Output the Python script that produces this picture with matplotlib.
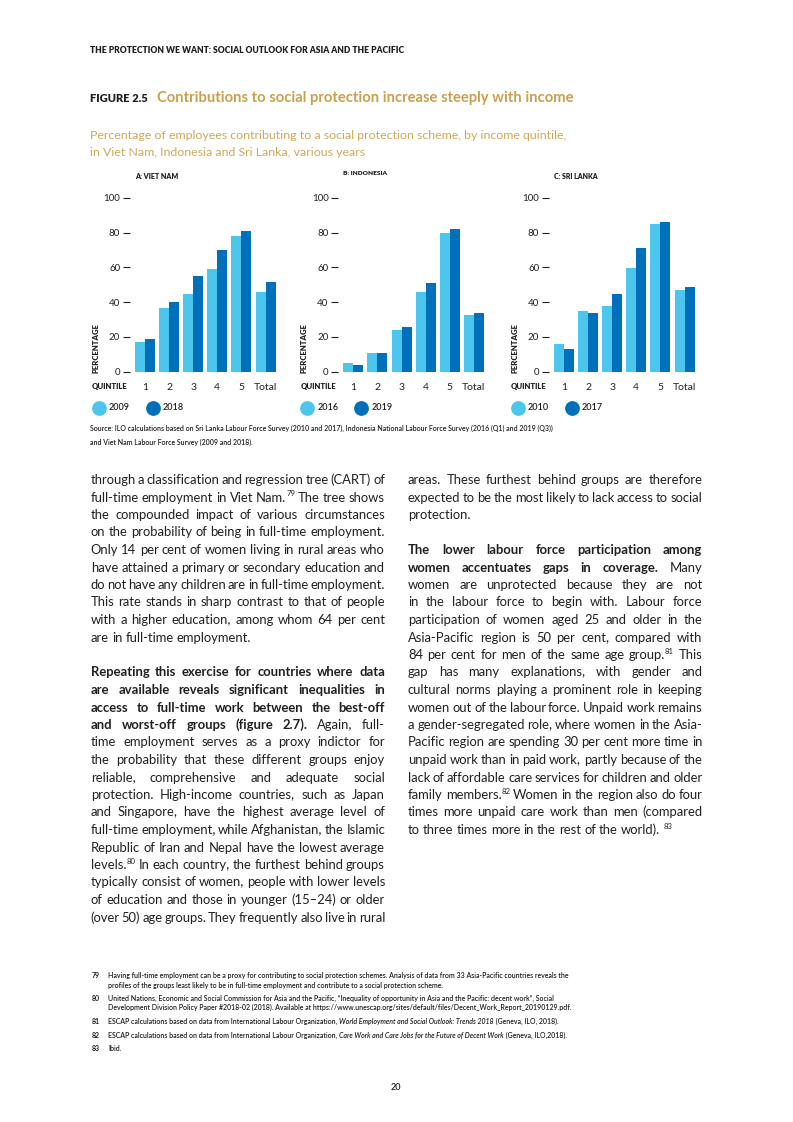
import math
import matplotlib
matplotlib.use("Agg")
import matplotlib.pyplot as plt
from matplotlib.font_manager import FontProperties
from matplotlib.lines import Line2D
import numpy as np

W, H = 793, 1122

# chart data
quintiles = ["1", "2", "3", "4", "5", "Total"]
viet_nam_2009 = [17.0, 36.6, 44.6, 59.0, 78.0, 45.8]
viet_nam_2018 = [18.8, 40.0, 55.0, 70.0, 80.8, 51.5]
indonesia_2016 = [5.0, 10.7, 24.0, 45.8, 79.7, 32.6]
indonesia_2019 = [3.8, 10.7, 25.7, 51.0, 82.0, 33.7]
sri_lanka_2010 = [15.9, 34.9, 37.7, 59.6, 84.9, 46.9]
sri_lanka_2017 = [13.0, 33.7, 44.6, 71.1, 86.0, 48.7]

panel_titles = ["A: VIET NAM", "B: INDONESIA", "C: SRI LANKA"]
panel_years = [("2009", "2018"), ("2016", "2019"), ("2010", "2017")]
panel_values = [(viet_nam_2009, viet_nam_2018),
                (indonesia_2016, indonesia_2019),
                (sri_lanka_2010, sri_lanka_2017)]

header = "THE PROTECTION WE WANT: SOCIAL OUTLOOK FOR ASIA AND THE PACIFIC"
fig_label = "FIGURE 2.5"
fig_title = "Contributions to social protection increase steeply with income"
subtitle = ["Percentage of employees contributing to a social protection scheme, by income quintile,",
            "in Viet Nam, Indonesia and Sri Lanka, various years"]
source = ["Source: ILO calculations based on Sri Lanka Labour Force Survey (2010 and 2017), Indonesia National Labour Force Survey (2016 (Q1) and 2019 (Q3))",
          "and Viet Nam Labour Force Survey (2009 and 2018)."]

# body text, line by line as set on the page ("bold part|regular part", "^" = superscript)
left_par1 = [
    "through a classification and regression tree (CART) of",
    "full-time employment in Viet Nam.^79 The tree shows",
    "the compounded impact of various circumstances",
    "on the probability of being in full-time employment.",
    "Only 14 per cent of women living in rural areas who",
    "have attained a primary or secondary education and",
    "do not have any children are in full-time employment.",
    "This rate stands in sharp contrast to that of people",
    "with a higher education, among whom 64 per cent",
    "are in full-time employment.",
]
left_par2 = [
    "Repeating this exercise for countries where data|",
    "are available reveals significant inequalities in|",
    "access to full-time work between the best-off|",
    "and worst-off groups (figure 2.7).|Again, full-",
    "time employment serves as a proxy indictor for",
    "the probability that these different groups enjoy",
    "reliable, comprehensive and adequate social",
    "protection. High-income countries, such as Japan",
    "and Singapore, have the highest average level of",
    "full-time employment, while Afghanistan, the Islamic",
    "Republic of Iran and Nepal have the lowest average",
    "levels.^80 In each country, the furthest behind groups",
    "typically consist of women, people with lower levels",
    "of education and those in younger (15\u201324) or older",
    "(over 50) age groups. They frequently also live in rural",
]
right_par1 = [
    "areas. These furthest behind groups are therefore",
    "expected to be the most likely to lack access to social",
    "protection.",
]
right_par2 = [
    "The lower labour force participation among|",
    "women accentuates gaps in coverage.|Many",
    "women are unprotected because they are not",
    "in the labour force to begin with. Labour force",
    "participation of women aged 25 and older in the",
    "Asia-Pacific region is 50 per cent, compared with",
    "84 per cent for men of the same age group.^81 This",
    "gap has many explanations, with gender and",
    "cultural norms playing a prominent role in keeping",
    "women out of the labour force. Unpaid work remains",
    "a gender-segregated role, where women in the Asia-",
    "Pacific region are spending 30 per cent more time in",
    "unpaid work than in paid work, partly because of the",
    "lack of affordable care services for children and older",
    "family members.^82 Women in the region also do four",
    "times more unpaid care work than men (compared",
    "to three times more in the rest of the world). ^83",
]

# footnotes: (number, [lines of (text, style)])
footnotes = [
    ("79", [[("Having full-time employment can be a proxy for contributing to social protection schemes. Analysis of data from 33 Asia-Pacific countries reveals the", "n")],
            [("profiles of the groups least likely to be in full-time employment and contribute to a social protection scheme.", "n")]]),
    ("80", [[("United Nations, Economic and Social Commission for Asia and the Pacific, \u201cInequality of opportunity in Asia and the Pacific: decent work\u201d, Social", "n")],
            [("Development Division Policy Paper #2018-02 (2018). Available at https://www.unescap.org/sites/default/files/Decent_Work_Report_20190129.pdf.", "n")]]),
    ("81", [[("ESCAP calculations based on data from International Labour Organization, ", "n"),
             ("World Employment and Social Outlook: Trends 2018", "i"),
             (" (Geneva, ILO, 2018).", "n")]]),
    ("82", [[("ESCAP calculations based on data from International Labour Organization, ", "n"),
             ("Care Work and Care Jobs for the Future of Decent Work", "i"),
             (" (Geneva, ILO,2018).", "n")]]),
    ("83", [[("Ibid.", "n")]]),
]

INK = "#231f20"
GOLD = "#c9a04b"
GOLD_LIGHT = "#d0a857"
LIGHT = "#4cc6ec"
DARK = "#0070bb"
SANS = "Lato"

plt.rcParams["font.family"] = SANS

fig = plt.figure(figsize=(W / 100, H / 100), dpi=100)
renderer = fig.canvas.get_renderer()


def fp(size, weight="normal", style="normal"):
    return FontProperties(family=SANS, size=size, weight=weight, style=style)


def text_width(s, prop):
    if not s:
        return 0.0
    w, h, d = renderer.get_text_width_height_descent(s, prop, ismath=False)
    return w


def fit(s, target, **kw):
    # font size that makes s about target pixels wide
    return 10 * target / text_width(s, fp(10, **kw))


def put(x, y, s, prop, color=INK, **kw):
    return fig.text(x / W, 1 - y / H, s, fontproperties=prop, color=color, **kw)


def put_base(x, y, s, prop, color=INK):
    # baseline text; nudge y so that pieces of one line land on the same pixel row
    w, h, d = renderer.get_text_width_height_descent(s, prop, ismath=False)
    yy = round(y) + math.floor(h) - math.floor(h - d) - d
    return put(x, yy, s, prop, color=color, va="baseline")


# ---- header and titles
put(90, 53, header, fp(fit(header, 315, weight="heavy"), weight="heavy"), va="baseline")
put_base(90, 102.5, fig_label, fp(fit(fig_label, 58, weight="heavy"), weight="heavy"))
put_base(157, 102.5, fig_title, fp(fit(fig_title, 416, weight="bold"), weight="bold"), color=GOLD)
sub_size = fit(subtitle[0], 480)
put(90, 139, subtitle[0], fp(sub_size), color=GOLD_LIGHT, va="baseline")
put(90, 155.5, subtitle[1], fp(sub_size), color=GOLD_LIGHT, va="baseline")

# ---- the three bar panels
panel_left = [133, 341.3, 552]
title_y = [176.7, 173.3, 176.7]
axes_w = 144.6
y0_px, y100_px = 371.7, 197.7
bw = 0.415
x = np.arange(len(quintiles))
small_bold = fit("PERCENTAGE", 50, weight="heavy")

for i in range(3):
    left = panel_left[i]
    a, b = panel_values[i]
    ax = fig.add_axes([left / W, 1 - y0_px / H, axes_w / W, (y0_px - y100_px) / H])
    ax.bar(x - bw / 2, a, bw, color=LIGHT, linewidth=0)
    ax.bar(x + bw / 2, b, bw, color=DARK, linewidth=0)
    ax.set_xlim(-0.5, 5.5)
    ax.set_ylim(0, 100)
    ax.set_yticks(range(0, 101, 20))
    ax.set_xticks(x, quintiles)
    for s in ax.spines.values():
        s.set_visible(False)
    ax.spines["left"].set_position(("outward", 2.2))
    ax.patch.set_visible(False)
    ax.tick_params(axis="y", length=5, width=0.8, pad=2, labelsize=7, color=INK, labelcolor=INK)
    ax.tick_params(axis="x", length=0, pad=8, labelsize=7.5, labelcolor=INK)

    put(left + 2, title_y[i], panel_titles[i],
        fp(fit(panel_titles[i], 44, weight="heavy"), weight="heavy"), va="center")
    put(left - 37, 373, "PERCENTAGE", fp(small_bold, weight="heavy"), rotation=90, ha="center", va="bottom")
    put(left - 41, 386.7, "QUINTILE", fp(small_bold, weight="heavy"), va="center")

    # legend
    for k, col in enumerate([LIGHT, DARK]):
        cx = left - 34 + k * 54
        fig.add_artist(Line2D([cx / W], [1 - 408 / H], marker="o", markersize=9.6, color=col,
                              linestyle="none", transform=fig.transFigure))
        put(cx + 10, 408, panel_years[i][k], fp(6.5, weight="semibold"), va="center")

# ---- source
src_size = fit(source[0], 463, weight="semibold")
put(90, 431, source[0], fp(src_size, weight="semibold"), va="baseline")
put(90, 444.5, source[1], fp(src_size, weight="semibold"), va="baseline")

# ---- body text, justified by hand
COL_W = 294.3
BODY_SIZE = 10.0
LINE = 17.5


def body_prop(size, bold):
    return fp(size, weight="bold" if bold else "normal")


def parse_words(line):
    if "|" in line:
        bold, reg = line.split("|")
    else:
        bold, reg = "", line
    return [(w, True) for w in bold.split()] + [(w, False) for w in reg.split()]


def word_width(word, bold, size):
    base, _, sup = word.partition("^")
    return text_width(base, body_prop(size, bold)) + text_width(sup, body_prop(size * 0.6, False))


# largest size at which every justified line still fits with tight spaces
justified = left_par1[:-1] + left_par2 + right_par1[:-1] + right_par2[:-1]
worst = 0
for line in justified:
    words = parse_words(line)
    need = sum(word_width(w, bd, BODY_SIZE) for w, bd in words) + (len(words) - 1) * 0.15 * BODY_SIZE * 100 / 72
    worst = max(worst, need / COL_W)
body_size = BODY_SIZE / max(1.0, worst)


def draw_line(x0, y, line, justify):
    words = parse_words(line)
    widths = [word_width(w, bd, body_size) for w, bd in words]
    if justify and len(words) > 1:
        gap = (COL_W - sum(widths)) / (len(words) - 1)
    else:
        gap = 0.24 * body_size * 100 / 72
    xx = x0
    for (w, bd), ww in zip(words, widths):
        base, _, sup = w.partition("^")
        prop = body_prop(body_size, bd)
        if base:
            put_base(xx, y, base, prop)
        if sup:
            put_base(xx + text_width(base, prop), y - 5, sup, body_prop(body_size * 0.6, False))
        xx += ww + gap


def draw_par(x0, y_first, lines, last_justified=False):
    for j, line in enumerate(lines):
        is_last = j == len(lines) - 1
        draw_line(x0, y_first + j * LINE + 4, line, justify=(not is_last) or last_justified)


draw_par(90.7, 480, left_par1)
draw_par(90.7, 480 + 11 * LINE, left_par2, last_justified=True)
draw_par(408, 480, right_par1)
draw_par(408, 480 + 4 * LINE, right_par2)

# ---- footnotes
fn_size = fit(footnotes[0][1][0][0][0], 460, weight="semibold")
fn_y = [[975, 984.5], [998, 1007.5], [1021], [1034.5], [1048]]
for (num, lines), ys in zip(footnotes, fn_y):
    put_base(91.7, ys[0] + 3, num, fp(fn_size, weight="bold"))
    for runs, yy in zip(lines, ys):
        xx = 108.3
        for txt, st in runs:
            prop = fp(fn_size, weight="semibold", style="italic" if st == "i" else "normal")
            put_base(xx, yy + 3, txt, prop)
            xx += text_width(txt, prop)

put(396, 1087, "20", fp(6.5, weight="semibold"), ha="center", va="center")

fig.savefig("out.png", dpi=100)
